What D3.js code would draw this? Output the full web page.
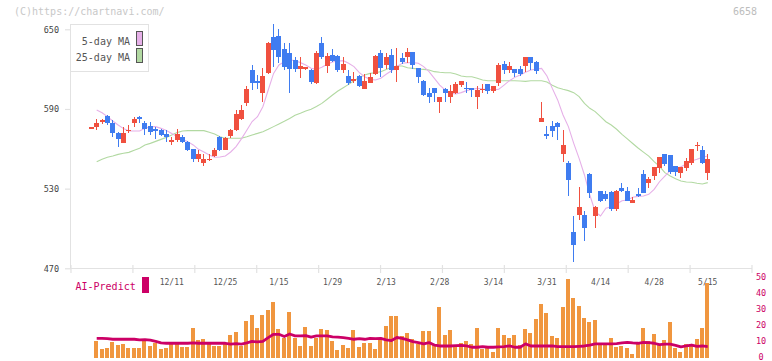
<!DOCTYPE html>
<html><head><meta charset="utf-8">
<script src="https://cdn.jsdelivr.net/npm/d3@7"></script>
<style>
html,body{margin:0;padding:0;background:#fff;}
svg{display:block;font-family:"DejaVu Sans Mono","Liberation Mono",monospace;}
</style></head><body>
<svg id="c" width="772" height="361"></svg>
<script>
// ---------- DATA ----------
const dates = ["11/20","11/21","11/22","11/25","11/26","11/27","11/28","11/29","12/2","12/3","12/4","12/5","12/6","12/9","12/10",
"12/11","12/12","12/13","12/16","12/17","12/18","12/19","12/20","12/23","12/24","12/25","12/26","12/27","12/30","1/6","1/7",
"1/8","1/9","1/10","1/14","1/15","1/16","1/17","1/20","1/21","1/22","1/23","1/24","1/27","1/28","1/29","1/30","1/31","2/3",
"2/4","2/5","2/6","2/7","2/10","2/12","2/13","2/14","2/17","2/18","2/19","2/20","2/21","2/25","2/26","2/27","2/28","3/3",
"3/4","3/5","3/6","3/7","3/10","3/11","3/12","3/13","3/14","3/17","3/18","3/19","3/21","3/24","3/25","3/26","3/27","3/28",
"3/31","4/1","4/2","4/3","4/4","4/7","4/8","4/9","4/10","4/11","4/14","4/15","4/16","4/17","4/18","4/21","4/22","4/23",
"4/24","4/25","4/28","4/30","5/1","5/2","5/7","5/8","5/9","5/12","5/13","5/14","5/15"];
const tickLabels = ["12/11","12/25","1/15","1/29","2/13","2/28","3/14","3/31","4/14","4/28","5/15"];
const priceTicks = [470,530,590,650];
const volTicks = [0,10,20,30,40,50];

const openP = [576.2,576.2,581.0,584.7,579.7,572.2,564.6,574.0,579.7,584.2,579.7,577.2,574.7,574.2,571.1,566.0,566.6,569.1,565.1,559.6,
552.6,549.6,552.4,554.8,569.1,559.1,569.6,574.2,582.7,594.2,619.3,611.1,602.3,617.3,644.4,645.2,635.2,631.9,626.9,619.8,
619.8,619.3,609.8,639.9,622.4,630.6,629.9,619.3,614.8,611.3,614.8,605.0,609.8,616.3,632.4,623.1,630.6,619.3,628.6,629.4,
633.2,620.6,611.3,602.3,605.5,595.5,604.8,598.8,602.3,607.8,606.0,605.5,598.8,604.8,608.8,603.5,609.8,623.9,619.3,619.8,
619.8,622.4,629.4,625.6,580.4,571.1,577.2,579.7,556.1,549.6,497.6,510.1,510.1,541.0,509.4,528.2,526.0,527.5,514.9,530.2,
528.2,519.4,525.7,541.0,534.5,539.8,545.3,556.1,555.3,547.0,541.5,545.8,549.1,562.1,559.1,541.5];
const highP = [576.2,582.2,582.7,585.2,581.7,572.5,576.2,577.9,583.7,584.5,581.2,580.2,576.7,575.2,574.2,568.6,574.7,570.4,566.1,560.1,
559.1,555.8,556.1,560.4,569.6,568.6,575.2,589.2,593.0,607.3,623.1,615.6,620.6,640.7,654.0,650.0,639.4,639.4,629.4,628.9,
621.9,620.0,633.9,644.0,631.9,634.9,630.5,628.9,619.3,618.1,615.6,616.3,617.3,630.9,634.4,631.9,634.9,635.7,632.4,635.7,
633.2,620.6,611.5,605.5,605.5,598.8,605.5,608.0,610.6,611.1,610.3,605.5,607.3,608.8,608.8,607.3,624.4,626.4,625.1,619.8,
622.4,629.4,629.4,626.4,595.5,577.2,580.9,580.2,574.2,550.8,509.4,531.0,513.1,541.5,516.9,528.5,528.2,528.0,529.0,534.0,
531.0,523.9,530.2,544.0,538.5,546.0,554.1,556.1,555.3,547.0,546.0,553.3,559.8,564.9,562.1,556.1];
const lowP = [576.2,574.2,578.7,577.7,568.6,561.6,564.0,571.6,576.7,579.2,570.6,570.6,567.1,569.6,565.4,562.6,565.4,564.6,558.6,550.3,
550.3,547.3,551.1,553.6,558.6,559.1,567.9,573.2,581.7,592.2,604.3,604.8,595.5,616.3,621.8,624.4,619.3,601.8,618.1,613.1,
619.3,609.0,608.5,628.0,616.8,625.0,618.0,617.3,608.0,609.3,606.3,604.8,609.5,615.3,614.3,619.8,616.8,610.6,623.9,624.9,
619.8,609.8,599.5,594.7,595.5,587.2,595.5,594.7,601.5,606.8,602.3,598.8,589.7,602.3,601.3,602.3,607.3,616.3,616.8,614.3,
615.0,618.1,619.3,616.3,580.4,567.4,568.6,566.6,550.3,524.5,475.0,506.4,490.8,522.7,500.6,520.0,521.0,513.4,513.4,527.5,
520.4,519.0,524.0,526.5,530.7,536.5,541.5,547.0,541.0,539.5,537.8,543.5,548.0,558.6,548.5,536.5];
const closeP = [576.2,579.7,581.5,579.2,571.6,567.6,572.2,574.3,582.7,582.2,574.7,572.9,573.7,570.4,568.6,566.3,571.1,565.4,559.1,552.6,
556.1,552.3,552.6,559.1,559.1,568.1,574.2,586.2,589.2,605.0,609.8,609.8,614.8,639.9,634.4,629.4,621.9,619.8,619.8,622.4,
621.4,610.6,632.4,629.4,629.9,626.4,619.3,623.9,609.3,612.3,607.3,611.1,614.3,629.9,620.6,629.4,619.3,622.4,625.6,633.2,
623.1,613.8,600.5,599.3,602.3,598.8,602.3,603.8,608.8,611.1,604.8,604.8,604.3,605.3,603.8,607.3,623.1,619.3,622.4,616.8,
616.3,629.4,624.9,618.6,583.4,570.4,573.7,576.7,562.9,536.5,487.6,516.4,500.6,527.0,516.4,520.9,521.9,514.9,528.2,528.2,
520.9,521.4,524.5,527.0,537.5,546.0,553.6,548.5,542.8,542.8,546.0,550.8,559.8,562.9,549.6,552.3];
const ma5 = [null,589.2,587.2,584.2,580.9,577.9,575.2,573.4,573.4,573.4,575.4,576.7,576.7,575.4,573.7,571.6,569.1,567.1,565.4,562.9,
559.6,557.6,555.3,553.6,553.8,554.6,557.6,561.6,567.5,574.0,580.5,584.2,591.7,604.3,616.8,623.1,625.6,626.9,626.4,624.9,
623.1,620.6,619.8,621.4,623.6,625.4,626.1,626.4,624.4,621.9,617.3,614.3,612.3,611.8,613.1,616.1,618.8,621.9,624.4,624.9,
624.9,624.4,621.9,618.1,613.1,608.0,604.3,601.8,601.3,602.3,603.8,604.8,605.5,605.0,604.8,604.3,604.8,608.0,611.3,613.8,
615.6,617.6,619.3,620.1,620.6,614.8,605.5,596.8,585.5,576.7,564.1,552.8,540.3,525.2,512.6,509.4,515.2,516.4,518.4,520.9,
521.4,523.5,524.2,524.5,525.7,529.5,535.2,539.5,543.5,544.8,546.5,548.6,550.8,552.1,553.6,554.6];
const ma25 = [null,550.3,552.1,553.6,554.6,555.8,556.6,557.3,558.9,560.4,562.9,564.1,565.6,567.1,568.6,570.4,572.2,573.4,573.7,573.7,
573.7,573.7,572.4,571.1,569.1,567.9,567.9,567.9,567.9,569.1,570.4,571.6,572.9,574.7,576.7,578.7,580.7,582.9,585.2,586.7,
588.5,589.8,591.8,594.2,597.3,600.5,603.5,606.0,608.5,611.3,613.8,615.6,616.8,617.3,618.1,619.8,621.4,622.4,622.4,621.1,
620.6,620.1,619.8,619.3,618.1,617.6,617.3,617.3,616.3,614.8,614.3,614.3,613.1,611.8,611.3,611.3,611.3,611.3,611.3,611.3,
611.1,610.8,611.3,611.3,611.3,610.3,607.8,606.0,604.8,603.8,602.3,599.3,594.2,590.5,588.0,584.2,580.4,577.9,574.7,570.9,
567.5,564.0,560.6,557.5,554.5,550.4,546.8,542.0,539.5,537.5,535.8,535.0,534.8,534.0,533.5,534.5];
const volume = [null,10.8,5.8,6.4,10.2,8.3,8.9,6.4,6.4,6.4,10.8,7.7,9.6,5.8,6.4,8.9,8.9,7.1,7.1,18.9,
11.4,12.1,9.6,7.7,7.7,9.6,14.6,16.5,7.7,23.3,27.1,18.9,27.1,30.2,35.2,18.3,12.7,29.0,12.7,7.7,
19.6,7.7,12.7,18.3,17.8,10.8,5.2,8.3,6.4,17.8,7.1,9.6,9.6,5.8,11.4,20.2,26.4,26.4,13.9,15.8,
12.1,8.9,17.1,17.1,8.3,32.1,14.6,17.8,8.3,9.6,10.8,8.9,18.9,5.8,7.1,4.0,18.9,14.6,12.7,14.6,
8.3,18.3,15.8,24.6,34.0,28.3,13.9,12.7,32.1,49.6,37.7,32.7,25.2,22.7,23.9,9.6,8.3,12.7,7.1,7.7,
6.4,2.6,9.6,18.9,10.8,15.2,8.9,11.4,22.7,6.4,4.0,8.9,8.9,12.1,18.9,47.1];
const aiPredict = [null,12.5,12.5,12.3,11.9,11.9,11.9,11.9,11.9,11.5,11.7,11.3,10.6,9.6,9.4,9.4,9.4,9.4,9.4,9.6,
9.4,9.4,9.4,9.4,9.4,9.4,8.9,9.2,8.8,9.6,10.6,10.2,10.6,12.9,15.0,15.0,13.6,15.2,14.0,14.0,
14.2,13.2,14.0,14.0,14.0,13.4,13.2,12.9,12.5,11.9,12.3,11.9,12.5,12.3,12.5,11.5,11.1,13.0,12.5,11.5,
10.4,9.8,9.0,9.8,8.3,7.7,7.7,7.7,7.9,8.1,7.7,6.9,6.9,7.3,6.9,6.9,7.1,7.3,7.7,6.9,
6.9,9.0,7.7,7.7,7.7,7.7,7.7,7.3,7.3,7.3,7.3,7.5,7.7,8.3,9.0,9.0,9.0,9.0,9.2,9.6,
10.0,9.6,9.4,10.0,9.8,9.4,8.5,8.8,8.8,8.1,7.1,7.7,8.3,7.5,7.7,7.3];

// ---------- STYLE ----------
const UP = "#f0503f", DOWN = "#3f7cf0", VOL = "#f0963f", AI = "#cc0066";
const MA5C = "#e6b0e8", MA25C = "#b2d9a2", AXIS = "#e2e2e2";

const svg = d3.select("#c");
const N = dates.length;
const idx = d3.range(N);

const x = d3.scaleLinear().domain([0, N - 1]).range([90.84, 707.24]);
const y = d3.scaleLinear().domain([470, 650]).range([268.3, 29.3]);
const yv = d3.scaleLinear().domain([0, 50]).range([358.3, 278.3]);
const grid = d3.scaleLinear().domain([0, 11]).range([70.5, 751.5]);
const xr = i => Math.round(x(i));

// watermark / code
svg.append("text").attr("x", 14).attr("y", 15).attr("font-size", 10).attr("fill", "#c8c8c8")
  .text("(C)https://chartnavi.com/");
svg.append("text").attr("x", 757).attr("y", 15).attr("font-size", 10).attr("fill", "#bdbdbd")
  .attr("text-anchor", "end").text("6658");

// axes lines
svg.append("line").attr("x1", 70.5).attr("x2", 70.5).attr("y1", 24).attr("y2", 268.5)
  .attr("stroke", AXIS).attr("stroke-width", 1);
svg.append("line").attr("x1", 70.5).attr("x2", 752).attr("y1", 268.5).attr("y2", 268.5)
  .attr("stroke", AXIS).attr("stroke-width", 1);

// bottom grid ticks
const gx = svg.append("g").attr("transform", "translate(0,265)")
  .call(d3.axisBottom(grid).tickValues(d3.range(12)).tickSize(8).tickFormat(""));
gx.select(".domain").remove();
gx.selectAll(".tick line").attr("stroke", AXIS).attr("stroke-width", 1.2);

// left axis
const gy = svg.append("g").attr("transform", "translate(71,0)")
  .call(d3.axisLeft(y).tickValues(priceTicks).tickSize(6).tickPadding(6));
gy.select(".domain").remove();
gy.selectAll(".tick line").attr("stroke", AXIS).attr("stroke-width", 1.2);
gy.selectAll(".tick text").attr("font-size", 8.5).attr("fill", "#444")
  .attr("font-family", "DejaVu Sans Mono");

// date labels
svg.append("g").selectAll("text").data(tickLabels).join("text")
  .attr("x", d => x(dates.indexOf(d)) + 0.5).attr("y", 285)
  .attr("text-anchor", "middle").attr("font-size", 8).attr("fill", "#555").text(d => d);

// MA lines
const lineP = arr => d3.line().defined(i => arr[i] != null).x(i => x(i) + 0.5).y(i => y(arr[i]));
svg.append("path").attr("d", lineP(ma25)(idx)).attr("fill", "none").attr("stroke", MA25C).attr("stroke-width", 1.1);
svg.append("path").attr("d", lineP(ma5)(idx)).attr("fill", "none").attr("stroke", MA5C).attr("stroke-width", 1.1);

// candles
const cg = svg.append("g").attr("shape-rendering", "crispEdges");
const col = i => closeP[i] >= openP[i] ? UP : DOWN;
cg.selectAll("rect.w").data(idx.filter(i => highP[i] > lowP[i])).join("rect").attr("class", "w")
  .attr("x", i => xr(i)).attr("width", 1)
  .attr("y", i => y(highP[i])).attr("height", i => y(lowP[i]) - y(highP[i]))
  .attr("fill", col);
cg.selectAll("rect.b").data(idx).join("rect").attr("class", "b")
  .attr("x", i => xr(i) - 2).attr("width", 5)
  .attr("y", i => y(Math.max(openP[i], closeP[i])))
  .attr("height", i => Math.max(1.5, Math.abs(y(openP[i]) - y(closeP[i]))))
  .attr("fill", col);

// legend
const lg = svg.append("g");
lg.append("rect").attr("x", 70.5).attr("y", 24.5).attr("width", 78).attr("height", 47)
  .attr("fill", "#fff").attr("stroke", AXIS);
[["5-day MA", MA5C, 44.5, 31.5], ["25-day MA", MA25C, 61, 48.5]].forEach(([t, c, ty, ry]) => {
  lg.append("text").attr("x", 130).attr("y", ty).attr("text-anchor", "end")
    .attr("font-size", 10).attr("fill", "#555").text(t);
  lg.append("rect").attr("x", 136.5).attr("y", ry).attr("width", 6).attr("height", 14)
    .attr("fill", c).attr("stroke", "#555").attr("stroke-width", 1);
});

// volume bars
svg.append("g").attr("shape-rendering", "crispEdges").selectAll("rect")
  .data(idx.filter(i => volume[i] != null)).join("rect")
  .attr("x", i => xr(i) - 2).attr("width", 4)
  .attr("y", i => yv(volume[i])).attr("height", i => yv(0) - yv(volume[i]))
  .attr("fill", VOL);

// AI predict line
svg.append("path")
  .attr("d", d3.line().defined(i => aiPredict[i] != null).x(i => x(i) + 0.5).y(i => yv(aiPredict[i]))(idx))
  .attr("fill", "none").attr("stroke", AI).attr("stroke-width", 2.8).attr("stroke-linejoin", "round");

// right volume axis labels
svg.append("g").selectAll("text").data(volTicks).join("text")
  .attr("x", 761).attr("y", d => yv(d) - 1).attr("dy", "0.32em").attr("text-anchor", "middle")
  .attr("font-size", 8.5).attr("fill", AI).text(d => d);

// AI-Predict legend
svg.append("text").attr("x", 75.5).attr("y", 289.5).attr("font-size", 10).attr("fill", AI).text("AI-Predict");
svg.append("rect").attr("x", 142).attr("y", 277).attr("width", 7).attr("height", 16).attr("fill", AI);
</script>
</body></html>
